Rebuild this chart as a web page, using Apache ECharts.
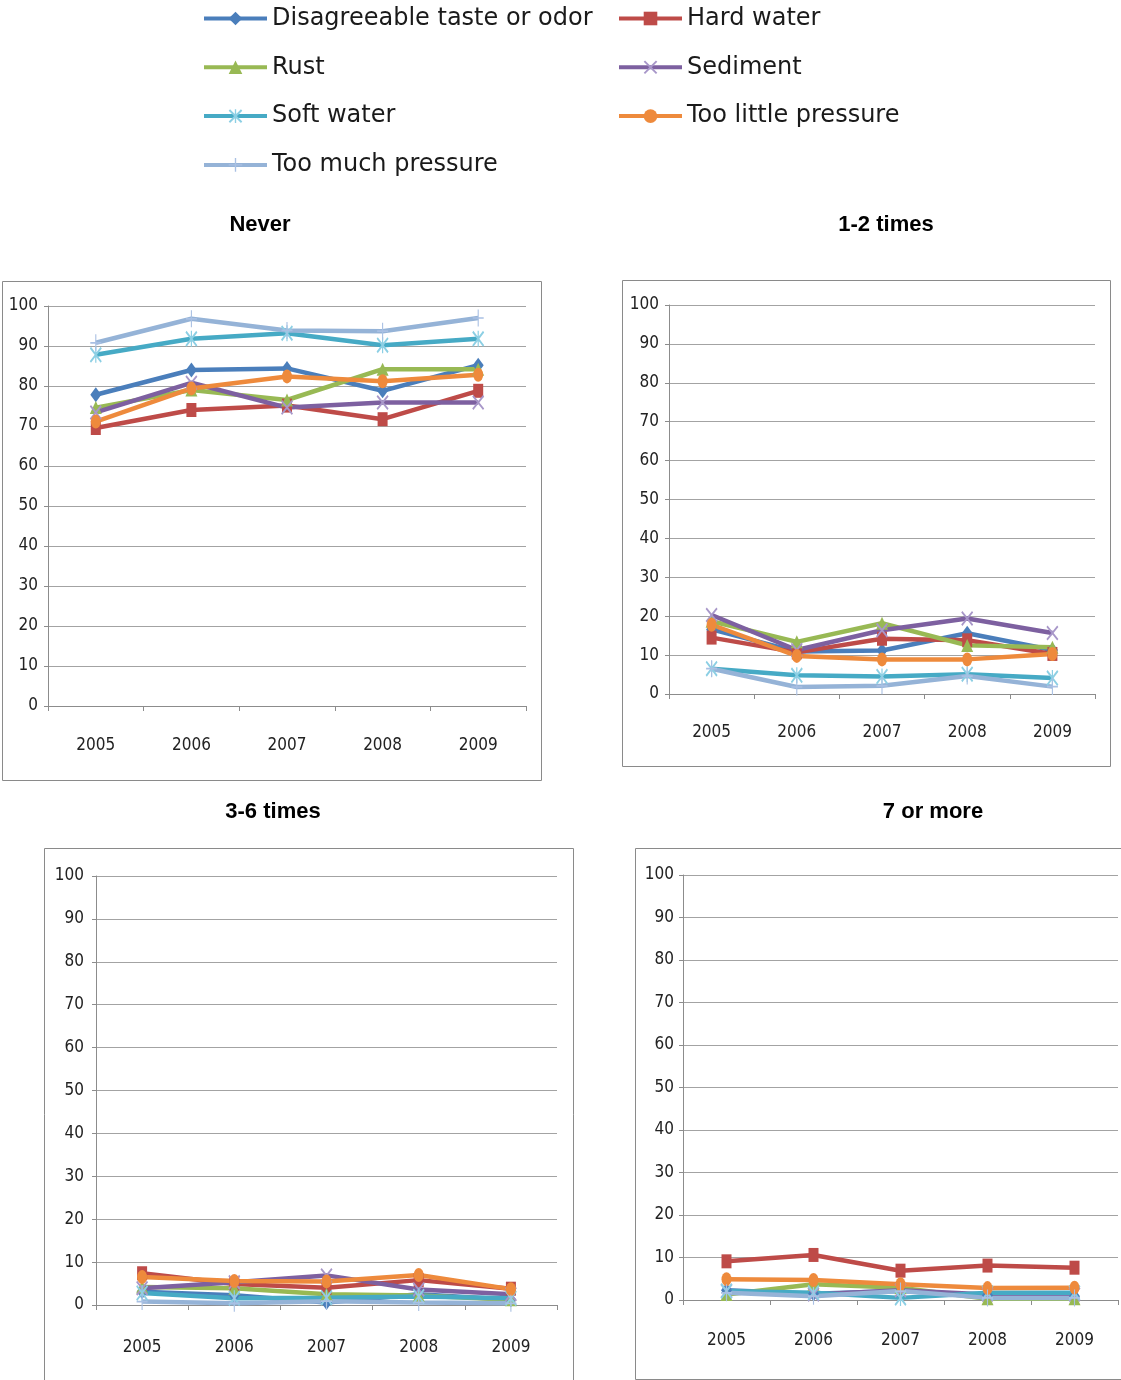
<!DOCTYPE html>
<html>
<head>
<meta charset="utf-8">
<script src="https://cdn.jsdelivr.net/npm/echarts@6/dist/echarts.min.js"></script>
<style>
  html, body { margin: 0; padding: 0; background: #ffffff; }
  #chart { width: 1121px; height: 1380px; }
</style>
</head>
<body>
<div id="chart"></div>
<script>
// Survey years on the category axis
const years = ['2005', '2006', '2007', '2008', '2009'];

// Water problems, in legend order
const problems = [
  'Disagreeable taste or odor',
  'Hard water',
  'Rust',
  'Sediment',
  'Soft water',
  'Too little pressure',
  'Too much pressure'
];

// Panel headings (how often the problem was experienced)
const panelTitles = ['Never', '1-2 times', '3-6 times', '7 or more'];

// Percent of respondents, one row per problem (same order as `problems`)
const neverValues = [
  [77.8, 84.0, 84.4, 78.8, 85.2],
  [69.5, 74.0, 75.1, 71.7, 78.8],
  [74.6, 79.0, 76.5, 84.2, 84.2],
  [73.4, 80.8, 74.6, 75.9, 75.9],
  [87.8, 91.8, 93.2, 90.2, 91.8],
  [71.1, 79.4, 82.4, 81.2, 82.8],
  [90.8, 96.8, 93.9, 93.7, 97.0]
];
const onceTwiceValues = [
  [16.6, 10.9, 11.2, 15.6, 11.3],
  [14.5, 10.7, 14.2, 13.8, 10.3],
  [18.7, 13.4, 18.2, 12.5, 12.0],
  [20.3, 11.3, 16.4, 19.4, 15.7],
  [6.5, 4.8, 4.5, 5.1, 4.1],
  [17.8, 9.8, 8.9, 8.9, 10.3],
  [6.5, 1.8, 2.1, 4.6, 1.9]
];
const threeSixValues = [
  [3.1, 2.3, 0.6, 2.5, 1.2],
  [7.4, 4.9, 4.0, 5.8, 3.8],
  [4.2, 3.9, 2.5, 2.2, 1.2],
  [3.9, 5.3, 6.9, 3.6, 2.5],
  [2.8, 1.6, 1.7, 2.0, 1.6],
  [6.5, 5.6, 5.5, 7.0, 3.7],
  [0.8, 0.4, 0.9, 0.6, 0.4]
];
const sevenPlusValues = [
  [2.3, 1.5, 2.1, 1.1, 0.9],
  [9.1, 10.6, 6.9, 8.1, 7.6],
  [1.3, 3.7, 2.9, 0.3, 0.3],
  [2.1, 1.3, 2.3, 1.3, 1.3],
  [2.1, 1.7, 0.5, 1.7, 1.7],
  [4.9, 4.7, 3.7, 2.8, 2.9],
  [1.7, 0.9, 2.1, 0.5, 0.5]
];

// Value axis range
const yMin = 0;
const yMax = 100;
const yStep = 10;

const panelValues = [neverValues, onceTwiceValues, threeSixValues, sevenPlusValues];

// Marker shapes drawn as thin strokes
const crossPath = 'path://M0,1 L1,0 L10,9 L9,10 Z M9,0 L10,1 L1,10 L0,9 Z';
const starPath = 'path://M0,1 L1,0 L10,9 L9,10 Z M9,0 L10,1 L1,10 L0,9 Z M4.5,0 L5.5,0 L5.5,10 L4.5,10 Z';
const plusPath = 'path://M4.5,0 L5.5,0 L5.5,10 L4.5,10 Z M0,4.5 L10,4.5 L10,5.5 L0,5.5 Z';

// Style of each problem's line and marker
const seriesStyles = [
  { line: '#4A7EBB', mark: '#4A7EBB', symbol: 'diamond',  size: [11, 15] },
  { line: '#BE4B48', mark: '#BE4B48', symbol: 'rect',     size: [10, 14] },
  { line: '#98B954', mark: '#98B954', symbol: 'triangle', size: [12, 13] },
  { line: '#7D60A0', mark: '#A897C9', symbol: crossPath,  size: [12, 15] },
  { line: '#46AAC5', mark: '#8CCFE4', symbol: starPath,   size: [12, 16] },
  { line: '#EE8A3C', mark: '#EE8A3C', symbol: 'circle',   size: [10, 14] },
  { line: '#95B3D7', mark: '#A9C0E3', symbol: plusPath,   size: [11, 17] }
];

// Plot area of each panel and the frame around it
const panels = [
  { grid: { left: 48,  top: 306, width: 478, height: 400 }, frame: { x: 2.5,   y: 281.5, width: 539, height: 499 }, title: { x: 260, y: 225 }, yMargin: 10, xMargin: 31 },
  { grid: { left: 669, top: 305, width: 426, height: 389 }, frame: { x: 622.5, y: 280.5, width: 488, height: 486 }, title: { x: 886, y: 225 }, yMargin: 10, xMargin: 30 },
  { grid: { left: 96,  top: 876, width: 461, height: 429 }, frame: { x: 44.5,  y: 848.5, width: 529, height: 600 }, title: { x: 273, y: 812 }, yMargin: 12, xMargin: 34 },
  { grid: { left: 683, top: 875, width: 435, height: 425 }, frame: { x: 635.5, y: 848.5, width: 600, height: 531 }, title: { x: 933, y: 812 }, yMargin: 9, xMargin: 32 }
];

const tickFont = { fontFamily: '"Liberation Sans Narrow", "DejaVu Sans Condensed", sans-serif', fontSize: 17, color: '#222222' };
const axisGray = '#8c8c8c';
const gridGray = '#a3a3a3';

const grids = panels.map(p => Object.assign({ containLabel: false }, p.grid));

const xAxes = panels.map((p, i) => ({
  type: 'category',
  gridIndex: i,
  data: years,
  boundaryGap: true,
  axisLine: { show: true, lineStyle: { color: axisGray, width: 1 } },
  axisTick: { show: true, length: 5, inside: false, lineStyle: { color: axisGray } },
  axisLabel: Object.assign({ margin: p.xMargin, interval: 0 }, tickFont),
  splitLine: { show: false }
}));

const yAxes = panels.map((p, i) => ({
  type: 'value',
  gridIndex: i,
  min: yMin,
  max: yMax,
  interval: yStep,
  axisLine: { show: true, lineStyle: { color: axisGray, width: 1 } },
  axisTick: { show: true, length: 4, inside: false, lineStyle: { color: axisGray } },
  axisLabel: Object.assign({ margin: p.yMargin }, tickFont),
  splitLine: { show: true, lineStyle: { color: gridGray, width: 1.2 } }
}));

const series = [];
panelValues.forEach((rows, pi) => {
  rows.forEach((vals, si) => {
    const st = seriesStyles[si];
    series.push({
      type: 'line',
      name: problems[si],
      xAxisIndex: pi,
      yAxisIndex: pi,
      data: vals,
      symbol: st.symbol,
      symbolSize: st.size,
      showSymbol: true,
      animation: false,
      lineStyle: { color: st.line, width: 4.5 },
      itemStyle: { color: st.mark, borderWidth: 0 },
      emphasis: { disabled: true }
    });
  });
});

const legendText = { fontFamily: '"DejaVu Sans", sans-serif', fontSize: 24, color: '#1a1a1a', lineHeight: 22 };
const legendBase = {
  orient: 'vertical',
  top: 6.5,
  padding: 0,
  itemWidth: 63,
  itemHeight: 17,
  itemGap: 24.8,
  textStyle: legendText,
  lineStyle: { width: 4 },
  selectedMode: false
};

const graphics = [];
panels.forEach((p, i) => {
  graphics.push({
    type: 'rect',
    silent: true,
    shape: p.frame,
    style: { fill: 'none', stroke: '#8a8a8a', lineWidth: 1 },
    z: -1
  });
  graphics.push({
    type: 'text',
    silent: true,
    x: p.title.x,
    y: p.title.y,
    style: {
      text: panelTitles[i],
      fontFamily: '"Liberation Sans", Arial, sans-serif',
      fontWeight: 'bold',
      fontSize: 22,
      fill: '#000000',
      align: 'center',
      verticalAlign: 'middle'
    }
  });
});

const chart = echarts.init(document.getElementById('chart'), null, { renderer: 'canvas' });
chart.setOption({
  backgroundColor: '#ffffff',
  animation: false,
  legend: [
    Object.assign({ left: 202, data: [problems[0], problems[2], problems[4], problems[6]] }, legendBase),
    Object.assign({ left: 617, data: [problems[1], problems[3], problems[5]] }, legendBase)
  ],
  grid: grids,
  xAxis: xAxes,
  yAxis: yAxes,
  series: series,
  graphic: graphics
});
</script>
</body>
</html>
